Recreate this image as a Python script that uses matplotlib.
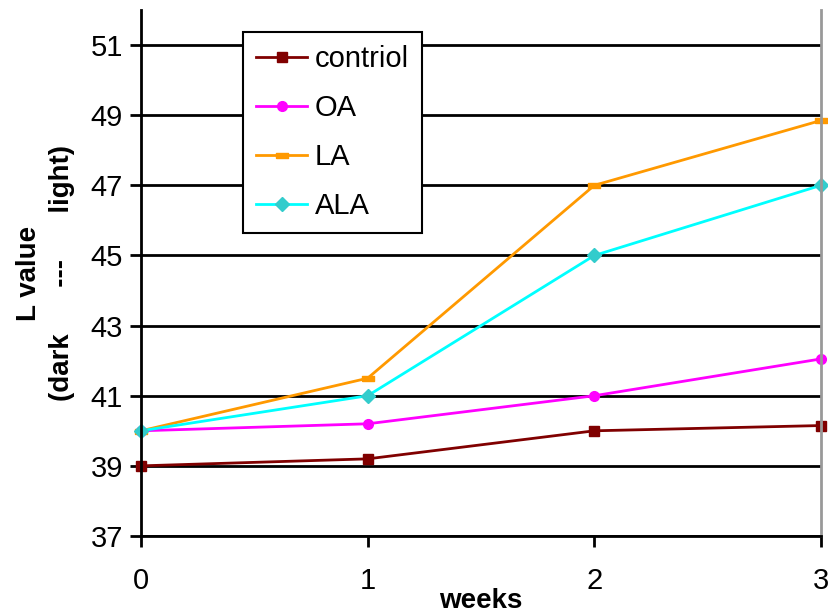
import matplotlib.pyplot as plt

plt.rcParams['font.family'] = ['Liberation Sans', 'DejaVu Sans']

weeks = [0, 1, 2, 3]
control = [39.0, 39.2, 40.0, 40.15]
oa = [40.0, 40.2, 41.0, 42.05]
la = [40.0, 41.5, 47.0, 48.85]
ala = [40.0, 41.0, 45.0, 47.0]
yticks = [37, 39, 41, 43, 45, 47, 49, 51]

flat_rect = [(-1, -0.45), (1, -0.45), (1, 0.45), (-1, 0.45), (-1, -0.45)]

fig = plt.figure(figsize=(8.29, 6.15), dpi=100)
ax = fig.add_axes([141 / 829, 1 - 536 / 615, 680 / 829, 526 / 615])

ax.plot(weeks, control, color='#800000', marker='s', markersize=7, lw=2,
        label='contriol', clip_on=False)
ax.plot(weeks, oa, color='#FF00FF', marker='o', markersize=7, lw=2,
        label='OA', clip_on=False)
ax.plot(weeks, la, color='#FF9900', marker=flat_rect, markersize=8, lw=2,
        label='LA', clip_on=False)
ax.plot(weeks, ala, color='#00FFFF', marker='D', markersize=7, lw=2, label='ALA',
        markerfacecolor='#33CCCC', markeredgecolor='#33CCCC', clip_on=False)

ax.set_xlim(0, 3)
ax.set_ylim(37, 52)
ax.set_xticks(weeks)
ax.set_yticks(yticks)
ax.yaxis.grid(True, color='black', lw=2)
ax.set_axisbelow(True)

ax.spines['top'].set_visible(False)
ax.spines['right'].set_color('#999999')
ax.spines['right'].set_linewidth(2)
ax.spines['left'].set_linewidth(2)
ax.spines['bottom'].set_linewidth(2)
ax.tick_params(axis='both', direction='out', length=8, width=2, labelsize=21)
ax.tick_params(axis='x', pad=14)
ax.tick_params(axis='y', pad=5)

ax.set_xlabel('weeks', fontsize=20, fontweight='bold', labelpad=-5)
ax.set_ylabel('L value\n(dark      ---      light)', fontsize=20, fontweight='bold',
              linespacing=1.35, labelpad=11)

leg = ax.legend(loc='upper left', bbox_to_anchor=(0.15, 0.958), fontsize=21,
                frameon=True, fancybox=False, edgecolor='black', framealpha=1,
                handlelength=1.75, handletextpad=0.25, labelspacing=0.72,
                borderpad=0.45, borderaxespad=0)
leg.get_frame().set_linewidth(1.5)

fig.savefig('out.png', dpi=100)
